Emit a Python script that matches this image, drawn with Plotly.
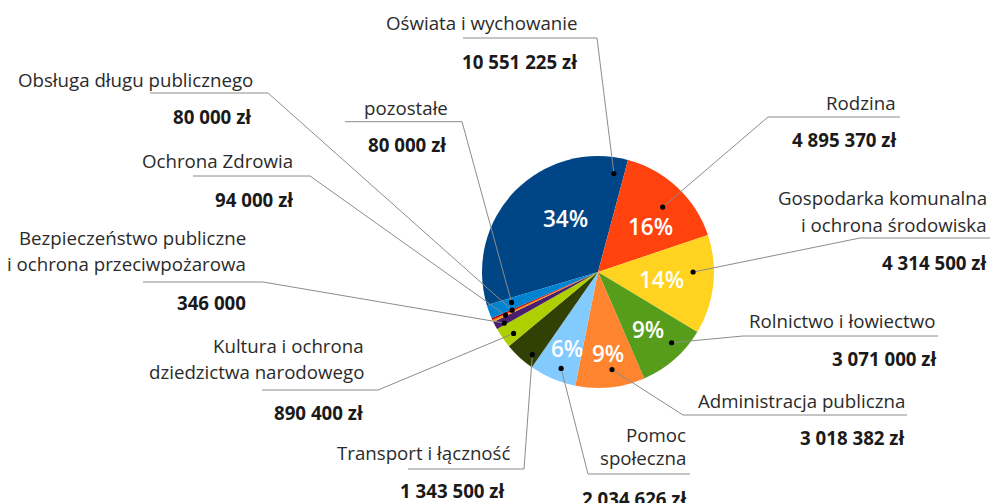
import math
import plotly.graph_objects as go

# ---------------- data ----------------
categories = [
    "Oświata i wychowanie",
    "Rodzina",
    "Gospodarka komunalna\ni ochrona środowiska",
    "Rolnictwo i łowiectwo",
    "Administracja publiczna",
    "Pomoc\nspołeczna",
    "Transport i łączność",
    "Kultura i ochrona\ndziedzictwa narodowego",
    "Bezpieczeństwo publiczne\ni ochrona przeciwpożarowa",
    "Ochrona Zdrowia",
    "Obsługa długu publicznego",
    "pozostałe",
]
# slice sizes as drawn in the picture (zł)
values = [10551225, 4895370, 4314500, 3071000, 3018382, 2034626,
          1343500, 890400, 346000, 94000, 80000, 600000]
amount_labels = ["10 551 225 zł", "4 895 370 zł", "4 314 500 zł", "3 071 000 zł",
                 "3 018 382 zł", "2 034 626 zł", "1 343 500 zł", "890 400 zł",
                 "346 000", "94 000 zł", "80 000 zł", "80 000 zł"]
pct_labels = ["34%", "16%", "14%", "9%", "9%", "6%", "", "", "", "", "", ""]

# ---------------- style / layout ----------------
colors = ["#004586", "#ff420e", "#ffd320", "#579d1c", "#ff8430", "#83caff",
          "#314004", "#aecf00", "#4b1f6f", "#ff950e", "#c5000b", "#0084d1"]

W, H = 990, 503
CX, CY, R = 598, 272, 116
FIRST_END_DEG = 15  # angle (clockwise from 12 o'clock) where the first slice ends

# anchor dot inside slice: fraction along slice span, fraction of radius
dot_frac = [0.952, 0.53, 0.374, 0.36, 0.44, 0.41, 0.24, 0.36, 0.23, 0.5, 0.5, 0.6]
dot_rad = [0.86, 0.79, 0.82, 0.88, 0.85, 0.89, 0.91, 0.90, 0.92, 0.88, 0.81, 0.79]
pct_frac = [0.62, 0.6, 0.51, 0.5, 0.47, 0.45, 0, 0, 0, 0, 0, 0]
pct_rad = [0.54, 0.60, 0.55, 0.66, 0.71, 0.71, 0, 0, 0, 0, 0, 0]

# label boxes: text right x, first line y, line spacing, amount right x, amount y,
# leader line y, x0, x1, knee side
label_pos = [
    (580, 22, 27, 579, 61, 38, 463, 597, "right"),
    (898, 102, 27, 898, 139, 117, 768, 900, "left"),
    (989, 197, 27, 988, 262, 238, 860, 992, "left"),
    (937, 320, 27, 938, 358, 336, 743, 938, "left"),
    (907, 400, 27, 906, 437, 415, 683, 907, "left"),
    (688, 434, 23.5, 688, 498, 474, 588, 690, "left"),
    (513, 452, 27, 506, 490, 469, 408, 524, "right"),
    (366, 345, 26, 365, 412, 390, 262, 378, "right"),
    (248, 237, 26.5, 248, 302.5, 282, 143, 263, "right"),
    (295, 160, 27, 295, 199, 176, 193, 310, "right"),
    (255, 79, 27, 253, 116, 93, 150, 268, "right"),
    (450, 107, 27, 448, 144, 121.7, 345, 462, "right"),
]

FONT = "Open Sans"
LABEL_SIZE = 18.7
PCT_SIZE = 22.5

total = float(sum(values))
spans = [360.0 * v / total for v in values]
rotation = FIRST_END_DEG - spans[0]
starts = []
a = rotation
for s in spans:
    starts.append(a)
    a += s


def polar(angle_deg, r):
    t = math.radians(angle_deg)
    return CX + r * math.sin(t), CY - r * math.cos(t)


fig = go.Figure()
fig.add_trace(go.Pie(
    labels=[c.replace("\n", " ") for c in categories],
    values=values,
    sort=False,
    direction="clockwise",
    rotation=rotation,
    marker=dict(colors=colors, line=dict(width=0)),
    textinfo="none",
    hoverinfo="skip",
    showlegend=False,
    domain=dict(x=[(CX - R) / W, (CX + R) / W],
                y=[(H - CY - R) / H, (H - CY + R) / H]),
))
# invisible pixel-space axes for labels and leader lines
fig.add_trace(go.Scatter(x=[0, W], y=[0, H], mode="markers",
                         marker=dict(opacity=0), hoverinfo="skip", showlegend=False))

shapes = []
annotations = []
for i, cat in enumerate(categories):
    ang = starts[i] + dot_frac[i] * spans[i]
    dx, dy = polar(ang, dot_rad[i] * R)
    tx, ty, sp, ax, ay, ly, x0, x1, knee = label_pos[i]
    kx = x1 if knee == "right" else x0
    ox = x0 if knee == "right" else x1
    shapes.append(dict(type="path", xref="x", yref="y", layer="above",
                       path=f"M{ox},{ly} L{kx},{ly} L{dx:.2f},{dy:.2f}",
                       line=dict(color="#8c8c8c", width=1)))
    shapes.append(dict(type="circle", xref="x", yref="y", layer="above",
                       x0=dx - 2.6, x1=dx + 2.6, y0=dy - 2.6, y1=dy + 2.6,
                       fillcolor="#000000", line=dict(width=0)))
    for j, line in enumerate(cat.split("\n")):
        annotations.append(dict(x=tx, y=ty + j * sp, xref="x", yref="y",
                                text=line, showarrow=False, xanchor="right",
                                yanchor="middle",
                                font=dict(family=FONT, size=LABEL_SIZE, color="#2b2b2b")))
    annotations.append(dict(x=ax, y=ay, xref="x", yref="y",
                            text=f"<b>{amount_labels[i]}</b>", showarrow=False,
                            xanchor="right", yanchor="middle",
                            font=dict(family=FONT, size=LABEL_SIZE, color="#1a1a1a")))
    if pct_labels[i]:
        px, py = polar(starts[i] + pct_frac[i] * spans[i], pct_rad[i] * R)
        annotations.append(dict(x=px, y=py, xref="x", yref="y", text=pct_labels[i],
                                showarrow=False, xanchor="center", yanchor="middle",
                                font=dict(family=FONT, size=PCT_SIZE, color="#ffffff",
                                          weight=600)))

fig.update_layout(
    width=W, height=H,
    margin=dict(l=0, r=0, t=0, b=0),
    paper_bgcolor="#ffffff", plot_bgcolor="rgba(0,0,0,0)",
    xaxis=dict(range=[0, W], visible=False, fixedrange=True, domain=[0, 1]),
    yaxis=dict(range=[H, 0], visible=False, fixedrange=True, domain=[0, 1]),
    shapes=shapes, annotations=annotations,
)
fig.write_html("out.html",
               config={"displayModeBar": False},
               post_script="document.body.style.margin='0';document.body.style.overflow='hidden';")
